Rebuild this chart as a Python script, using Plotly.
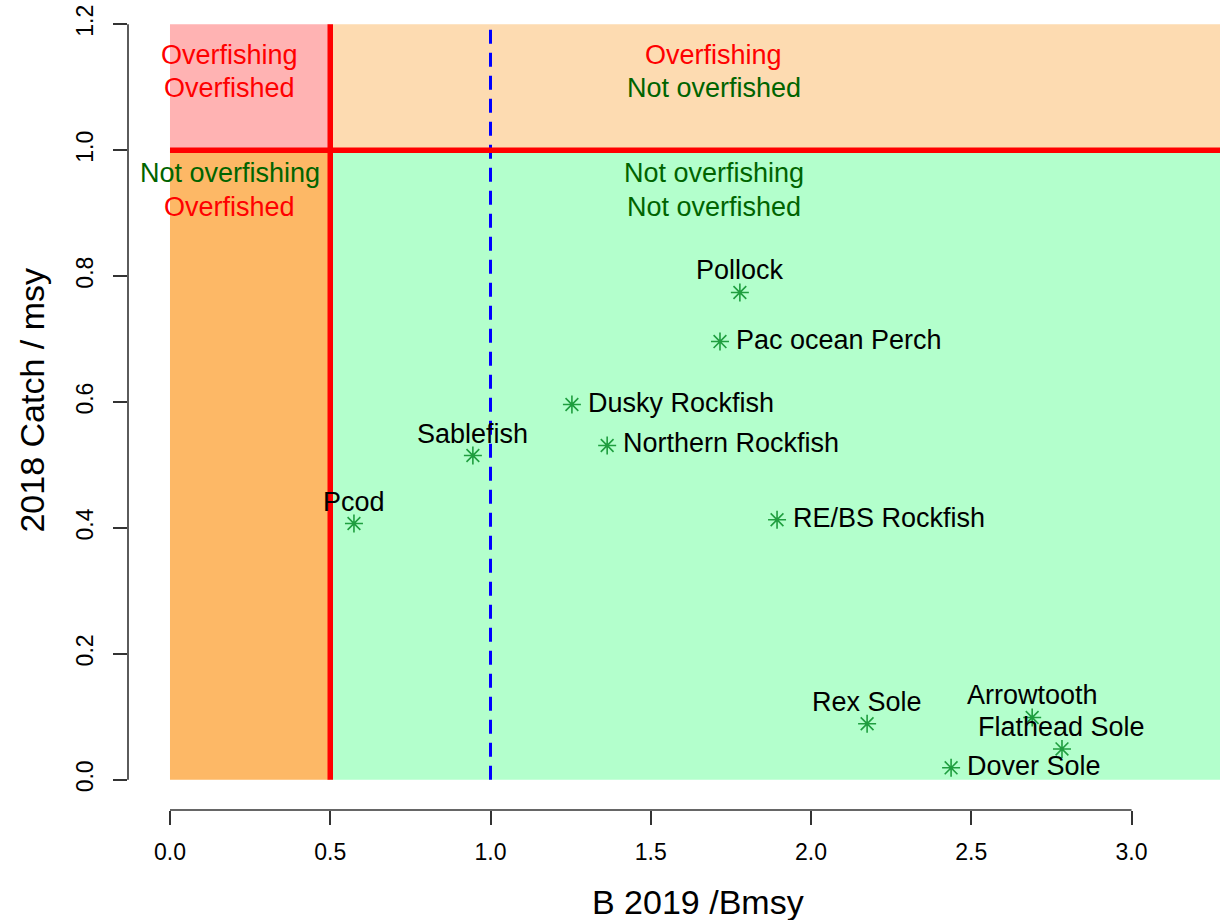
import plotly.graph_objects as go

# ---- data ----
species = ["Pollock", "Pac ocean Perch", "Dusky Rockfish", "Northern Rockfish",
           "Sablefish", "Pcod", "RE/BS Rockfish", "Rex Sole", "Arrowtooth",
           "Flathead Sole", "Dover Sole"]
b_ratio = [1.778, 1.716, 1.254, 1.364, 0.945, 0.574, 1.894, 2.175, 2.690, 2.783, 2.437]
c_ratio = [0.774, 0.696, 0.596, 0.531, 0.515, 0.407, 0.413, 0.089, 0.099, 0.049, 0.019]
label_side = ["top", "right", "right", "right", "top", "top", "right", "top", "top", "top", "right"]

x_ticks = [0.0, 0.5, 1.0, 1.5, 2.0, 2.5, 3.0]
x_tick_text = ["0.0", "0.5", "1.0", "1.5", "2.0", "2.5", "3.0"]
y_ticks = [0.0, 0.2, 0.4, 0.6, 0.8, 1.0, 1.2]
y_tick_text = ["0.0", "0.2", "0.4", "0.6", "0.8", "1.0", "1.2"]

b_limit = 0.5      # overfished threshold
b_target = 1.0     # Bmsy
f_limit = 1.0      # overfishing threshold
y_top = 1.2
x_shade_end = 3.6

FONT = "Liberation Sans, Arial, Helvetica, sans-serif"
RED = "#FF0000"
DKGREEN = "#006400"

fig = go.Figure()

# quadrant shading
quads = [
    (0, b_limit, f_limit, y_top, "#FFB3B3"),
    (b_limit, x_shade_end, f_limit, y_top, "#FDDBB1"),
    (0, b_limit, 0, f_limit, "#FDB866"),
    (b_limit, x_shade_end, 0, f_limit, "#B3FFCC"),
]
for x0, x1, y0, y1, col in quads:
    fig.add_shape(type="rect", xref="x", yref="y", x0=x0, x1=x1, y0=y0, y1=y1,
                  fillcolor=col, line=dict(width=0), layer="below")

# reference lines
fig.add_shape(type="line", xref="x", yref="y", x0=b_target, x1=b_target, y0=0, y1=y_top,
              line=dict(color="#0000FF", width=3, dash="14px,9px"), layer="below")
fig.add_shape(type="line", xref="x", yref="y", x0=b_limit, x1=b_limit, y0=0, y1=y_top,
              line=dict(color=RED, width=5.5), layer="below")
fig.add_shape(type="line", xref="x", yref="y", x0=0, x1=x_shade_end, y0=f_limit, y1=f_limit,
              line=dict(color=RED, width=5.5), layer="below")

# points
fig.add_trace(go.Scatter(
    x=b_ratio, y=c_ratio, mode="markers",
    marker=dict(symbol="asterisk-open", size=15, color="#1F9E3F",
                line=dict(color="#1F9E3F", width=1.6)),
    hoverinfo="text", text=species, showlegend=False))

# point labels
for name, bx, cy, side in zip(species, b_ratio, c_ratio, label_side):
    if side == "top":
        fig.add_annotation(x=bx, y=cy, xref="x", yref="y", text=name, showarrow=False,
                           xanchor="center", yanchor="middle", yshift=22,
                           font=dict(family=FONT, size=27, color="black"))
    else:
        fig.add_annotation(x=bx, y=cy, xref="x", yref="y", text=name, showarrow=False,
                           xanchor="left", yanchor="middle", xshift=14, yshift=2,
                           font=dict(family=FONT, size=27, color="black"))

# quadrant labels
zone = [
    (0.187, 1.151, "Overfishing", RED),
    (0.187, 1.099, "Overfished", RED),
    (0.187, 0.963, "Not overfishing", DKGREEN),
    (0.187, 0.909, "Overfished", RED),
    (1.697, 1.151, "Overfishing", RED),
    (1.697, 1.099, "Not overfished", DKGREEN),
    (1.697, 0.963, "Not overfishing", DKGREEN),
    (1.697, 0.909, "Not overfished", DKGREEN),
]
for zx, zy, txt, col in zone:
    fig.add_annotation(x=zx, y=zy, xref="x", yref="y", text=txt, showarrow=False,
                       xanchor="center", yanchor="middle",
                       font=dict(family=FONT, size=27, color=col))

# axis lines (R style, only between first and last tick)
fig.add_shape(type="line", xref="x", yref="paper", x0=x_ticks[0], x1=x_ticks[-1], y0=0, y1=0,
              line=dict(color="#333333", width=1.6))
fig.add_shape(type="line", xref="paper", yref="y", x0=0, x1=0, y0=y_ticks[0], y1=y_ticks[-1],
              line=dict(color="#333333", width=1.6))

# axis titles
fig.add_annotation(x=0.522, y=-0.114, xref="paper", yref="paper", text="B 2019 /Bmsy",
                   showarrow=False, xanchor="center", yanchor="middle",
                   font=dict(family=FONT, size=34, color="black"))
fig.add_annotation(x=-0.0875, y=0.506, xref="paper", yref="paper", text="2018 Catch / msy",
                   showarrow=False, xanchor="center", yanchor="middle", textangle=-90,
                   font=dict(family=FONT, size=34, color="black"))

fig.update_xaxes(range=[-0.131, 3.276], tickvals=x_ticks, ticktext=x_tick_text,
                 ticks="outside", ticklen=14, tickwidth=1.6, tickcolor="#333333",
                 showline=False, showgrid=False, zeroline=False,
                 tickfont=dict(family=FONT, size=23, color="black"),
                 ticklabelstandoff=7)
fig.update_yaxes(range=[-0.048, 1.2385], tickvals=y_ticks, ticktext=y_tick_text,
                 ticks="outside", ticklen=14, tickwidth=1.6, tickcolor="#333333",
                 showline=False, showgrid=False, zeroline=False, tickangle=-90,
                 tickfont=dict(family=FONT, size=23, color="black"),
                 ticklabelstandoff=11)

fig.update_layout(width=1220, height=920,
                  margin=dict(l=128, r=0, t=0, b=110),
                  plot_bgcolor="white", paper_bgcolor="white",
                  showlegend=False, font=dict(family=FONT))

fig.write_html("out.html",
               config={"displayModeBar": False},
               post_script="document.body.style.margin='0';document.body.style.overflow='hidden';")
